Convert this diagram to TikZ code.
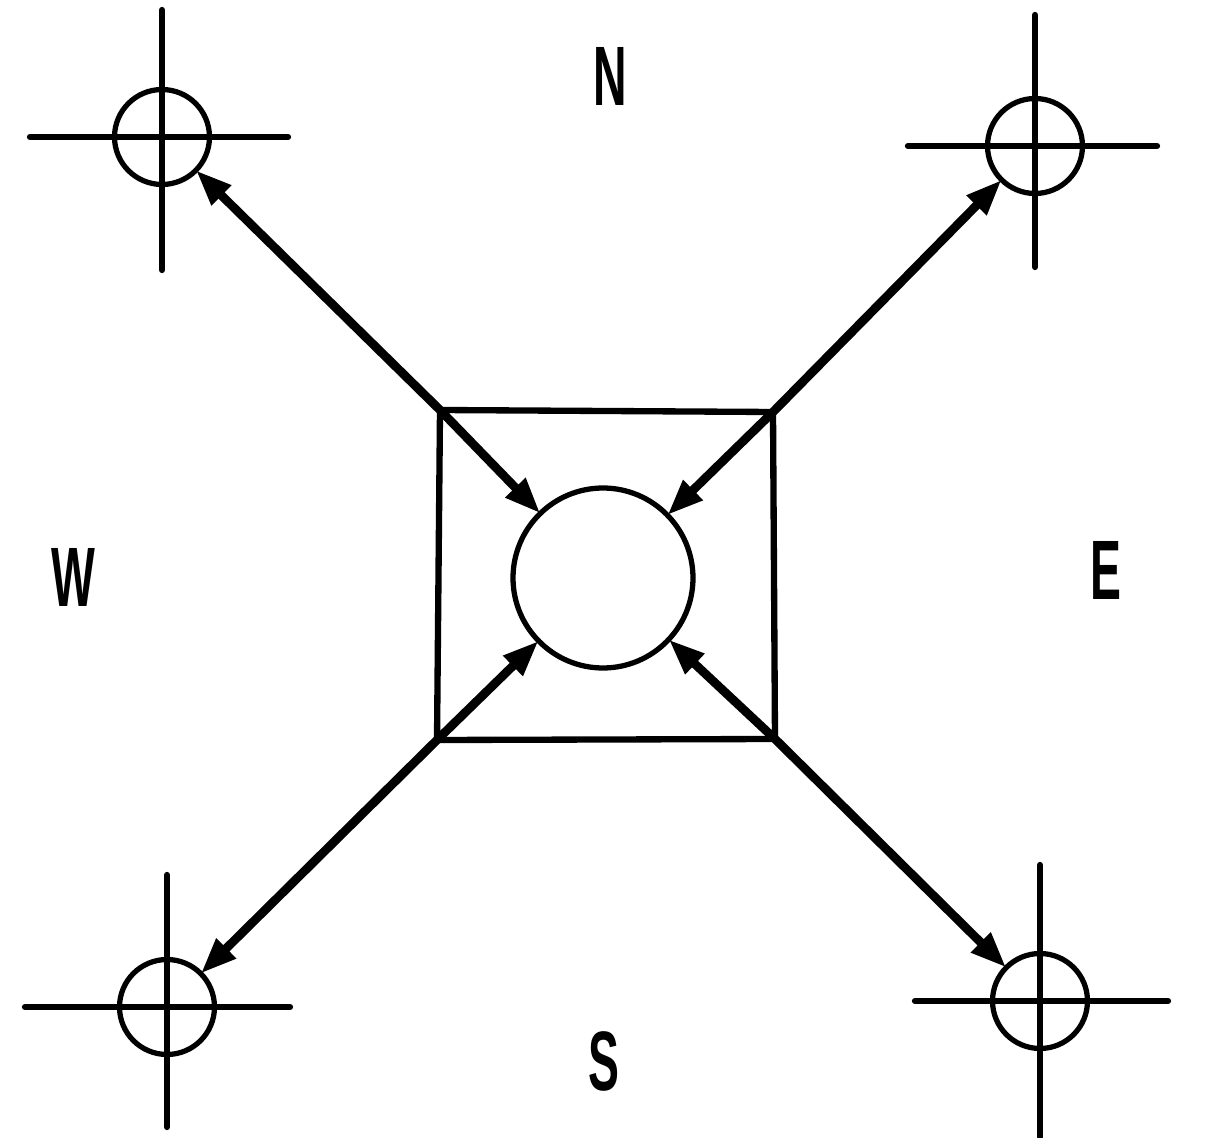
\documentclass[tikz,border=0pt]{standalone}
\usepackage{fontspec}
\newfontfamily\compassfont[FakeStretch=0.55]{Liberation Sans}
\usetikzlibrary{arrows.meta}

\begin{document}
\begin{tikzpicture}[x=0.02cm, y=-0.02cm,
    frame/.style={line width=3.6pt, line join=miter},
    ring/.style={draw, circle, line width=3pt, inner sep=0pt, outer sep=0pt},
    arr/.style={line width=5pt, -{Triangle[length=0.72cm, width=0.52cm]}},
    hair/.style={line width=3.6pt, line cap=round},
    dir/.style={font=\compassfont\bfseries\fontsize{48}{48}\selectfont, inner sep=0pt}]

    \useasboundingbox (0,0) rectangle (1211,1138);

    % Square
    \coordinate (sqtl) at (440,410);
    \coordinate (sqtr) at (773,412);
    \coordinate (sqbr) at (775,739);
    \coordinate (sqbl) at (437,740);
    \draw[frame] (sqtl) -- (sqtr) -- (sqbr) -- (sqbl) -- cycle;

    % Hub
    \node[ring, minimum size=3.6cm] (hub) at (603,578) {};

    % Crosshairs
    \foreach \n/\x/\y/\t/\b/\l/\r in {tl/162/137/127/133/132/126,
                                      tr/1035/146/131/121/127/122,
                                      bl/167/1007/132/120/142/123,
                                      br/1040/1001/136/136/125/128} {
        \node[ring, minimum size=1.9cm] (\n) at (\x,\y) {};
        \draw[hair] (\x,\y-\t) -- (\x,\y+\b);
        \draw[hair] (\x-\l,\y) -- (\x+\r,\y);
    }

    % Arrows out to the crosshairs
    \draw[arr] (sqtl) -- (tl);
    \draw[arr] (sqtr) -- (tr);
    \draw[arr] (sqbl) -- (bl);
    \draw[arr] (sqbr) -- (br);

    % Arrows in to the hub
    \draw[arr] (sqtl) -- (hub);
    \draw[arr] (sqtr) -- (hub);
    \draw[arr] (sqbl) -- (hub);
    \draw[arr] (sqbr) -- (hub);

    % Directions
    \node[dir] (north) at (610,76) {N};
    \node[dir] (west) at (73,577) {W};
    \node[dir] (east) at (1106,570) {E};
    \node[dir] (south) at (604,1061) {S};
\end{tikzpicture}
\end{document}
